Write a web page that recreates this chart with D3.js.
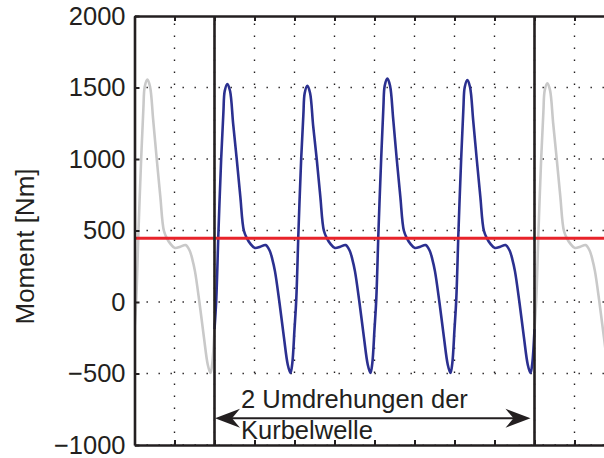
<!DOCTYPE html>
<html>
<head>
<meta charset="utf-8">
<script src="https://cdn.jsdelivr.net/npm/d3@7"></script>
<style>
  html, body { margin: 0; padding: 0; background: #ffffff; }
  svg { display: block; }
  text { font-family: "Liberation Sans", Arial, Helvetica, sans-serif; fill: #231f20; }
</style>
</head>
<body>
<script>
// ---------------- data ----------------
const yTicks = [-1000, -500, 0, 500, 1000, 1500, 2000];
const yTickLabels = ["\u22121000", "\u2212500", "0", "500", "1000", "1500", "2000"];
const xTicks = [-180, -90, 0, 90, 180, 270, 360, 450, 540, 630, 720, 810, 900];
const yLabel = "Moment [Nm]";
const meanTorque = 445;
const markerAngles = [0, 720];
const annotationLines = ["2 Umdrehungen der", "Kurbelwelle"];

// crank angle [deg] / torque [Nm] – previous cycle (grey)
const greyLeftAngle = [-180,-176,-171,-165,-160,-157,-151,-145,-138,-130,-122,-114,-107,-100,-89,-77,-65,-56,-50,-44,-34,-24,-15,-9,-5,0];
const greyLeftTorque = [-190,20,500,1000,1355,1505,1555,1505,1275,1000,740,500,445,410,378,386,398,360,300,216,0,-242,-440,-497,-430,-190];

// two crank revolutions (blue)
const blueAngle = [
  0,4,9,15,20,23,29,35,42,50,58,66,73,80,91,103,115,124,130,136,146,156,165,171,175,
  180,184,189,195,200,203,209,215,222,230,238,246,253,260,271,283,295,304,310,316,326,336,345,351,355,
  360,364,369,375,380,383,389,395,402,410,418,426,433,440,451,463,475,484,490,496,506,516,525,531,535,
  540,544,549,555,560,563,569,575,582,590,598,606,613,620,631,643,655,664,670,676,686,696,705,711,715,
  720];
const blueTorque = [
  -190,20,500,1000,1325,1475,1525,1475,1245,1000,740,500,445,410,378,386,398,360,300,216,0,-242,-440,-497,-430,
  -190,20,500,1000,1312,1462,1512,1462,1232,1000,740,500,445,410,378,386,398,360,300,216,0,-242,-440,-497,-430,
  -190,20,500,1000,1362,1512,1562,1512,1282,1000,740,500,445,410,378,386,398,360,300,216,0,-242,-440,-497,-430,
  -190,20,500,1000,1352,1502,1552,1502,1272,1000,740,500,445,410,378,386,398,360,300,216,0,-242,-440,-497,-430,
  -190];

// next cycle (grey)
const greyRightAngle = [720,724,729,735,740,743,749,755,762,770,778,786,793,800,811,823,835,844,850,856,866,876,885,891,895,900];
const greyRightTorque = [-190,20,500,1000,1330,1480,1530,1480,1250,1000,740,500,445,410,378,386,398,360,300,216,0,-242,-440,-497,-430,-190];

// ---------------- layout ----------------
const W = 604, H = 458;
const pL = 134.5, pR = 614.5, pT = 16, pB = 445;
const ink = "#231f20";

const x = d3.scaleLinear().domain([-180, 900]).range([pL, pR]);
const y = d3.scaleLinear().domain([-1000, 2000]).range([pB, pT]);

const svg = d3.select("body").append("svg").attr("width", W).attr("height", H);

svg.append("defs").append("clipPath").attr("id", "plotclip")
  .append("rect").attr("x", pL).attr("y", pT).attr("width", pR - pL).attr("height", pB - pT);

const plot = svg.append("g").attr("clip-path", "url(#plotclip)");

// grid (dotted)
const grid = plot.append("g");
grid.selectAll("line.vg").data(xTicks).join("line")
  .attr("x1", d => x(d)).attr("x2", d => x(d))
  .attr("y1", pB).attr("y2", pT)
  .attr("stroke", ink).attr("stroke-width", 1.4)
  .attr("stroke-dasharray", "1.4,10.6");
grid.selectAll("line.hg").data(yTicks).join("line")
  .attr("x1", pL).attr("x2", pR)
  .attr("y1", d => y(d)).attr("y2", d => y(d))
  .attr("stroke", ink).attr("stroke-width", 1.4)
  .attr("stroke-dasharray", "1.4,10.6");

const line = d3.line().x(d => x(d[0])).y(d => y(d[1])).curve(d3.curveCatmullRom.alpha(0.5));
const zip = (a, b) => a.map((v, i) => [v, b[i]]);

plot.append("path").datum(zip(greyLeftAngle, greyLeftTorque))
  .attr("d", line).attr("fill", "none").attr("stroke", "#c9c9c9").attr("stroke-width", 2.6);
plot.append("path").datum(zip(greyRightAngle, greyRightTorque))
  .attr("d", line).attr("fill", "none").attr("stroke", "#c9c9c9").attr("stroke-width", 2.6);
plot.append("path").datum(zip(blueAngle, blueTorque))
  .attr("d", line).attr("fill", "none").attr("stroke", "#2b3090").attr("stroke-width", 2.6);

// mean torque
plot.append("line")
  .attr("x1", pL).attr("x2", pR)
  .attr("y1", y(meanTorque)).attr("y2", y(meanTorque))
  .attr("stroke", "#e8232a").attr("stroke-width", 3);

// annotation background
plot.append("rect")
  .attr("x", x(markerAngles[0]) + 1).attr("y", y(-500) + 2.5)
  .attr("width", x(markerAngles[1]) - x(markerAngles[0]) - 2)
  .attr("height", pB - y(-500) - 3)
  .attr("fill", "#ffffff");

// vertical markers
plot.selectAll("line.mk").data(markerAngles).join("line")
  .attr("x1", d => x(d)).attr("x2", d => x(d))
  .attr("y1", pT).attr("y2", pB)
  .attr("stroke", ink).attr("stroke-width", 2.6);

// axes
const yAxis = d3.axisLeft(y).tickValues(yTicks).tickFormat((d, i) => yTickLabels[i])
  .tickSizeInner(-5).tickSizeOuter(0).tickPadding(9);
const gy = svg.append("g").attr("transform", `translate(${pL},0)`).call(yAxis);
gy.selectAll("text").style("font-size", "25.5px").attr("fill", ink).attr("dy", "0.33em");

const xAxisB = d3.axisBottom(x).tickValues(xTicks).tickFormat("").tickSizeInner(-5).tickSizeOuter(0);
svg.append("g").attr("transform", `translate(0,${pB})`).call(xAxisB);
const xAxisT = d3.axisTop(x).tickValues(xTicks).tickFormat("").tickSizeInner(-5).tickSizeOuter(0);
svg.append("g").attr("transform", `translate(0,${pT})`).call(xAxisT);

svg.selectAll(".domain").attr("stroke", ink).attr("stroke-width", 2.6);
svg.selectAll(".tick line").attr("stroke", ink).attr("stroke-width", 2);

// y label
svg.append("text")
  .attr("transform", `translate(33.5,${(pT + pB) / 2 + 16}) rotate(-90)`)
  .attr("text-anchor", "middle")
  .style("font-size", "26px")
  .text(yLabel);

// double arrow
const ay = 418.3;
const ax0 = x(markerAngles[0]) + 0.5, ax1 = x(markerAngles[1]) - 4;
svg.append("line").attr("x1", ax0 + 10).attr("x2", ax1 - 10).attr("y1", ay).attr("y2", ay)
  .attr("stroke", ink).attr("stroke-width", 2);
const head = "M0,0 L-25,-9.5 L-17,0 L-25,9.5 Z";
svg.append("path").attr("d", head).attr("fill", ink)
  .attr("transform", `translate(${ax1},${ay})`);
svg.append("path").attr("d", head).attr("fill", ink)
  .attr("transform", `translate(${ax0},${ay}) rotate(180)`);

svg.selectAll("text.ann").data(annotationLines).join("text")
  .attr("class", "ann")
  .attr("x", 241).attr("y", (d, i) => 408 + i * 30.5)
  .style("font-size", "25.5px")
  .text(d => d);
</script>
</body>
</html>
